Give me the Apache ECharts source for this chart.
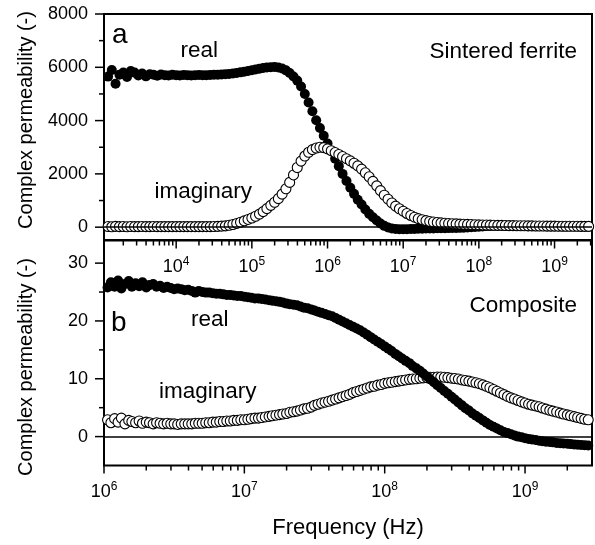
<!DOCTYPE html>
<html>
<head>
<meta charset="utf-8">
<script src="https://cdn.jsdelivr.net/npm/echarts@6.0.0/dist/echarts.min.js"></script>
<style>
  html, body { margin: 0; padding: 0; background: #fff; }
  #main { width: 595px; height: 545px; }
</style>
</head>
<body>
<div id="main"></div>
<script>
// sintered ferrite (panel a)
const ferriteFreq = [
  1.26e3, 1.41e3, 1.58e3, 1.78e3, 2e3, 2.24e3, 2.51e3, 2.82e3, 3.16e3, 3.55e3, 3.98e3, 4.47e3, 5.01e3, 5.62e3, 6.31e3, 7.08e3, 7.94e3, 8.91e3,
  1e4, 1.12e4, 1.26e4, 1.41e4, 1.58e4, 1.78e4, 2e4, 2.24e4, 2.51e4, 2.82e4, 3.16e4, 3.55e4, 3.98e4, 4.47e4, 5.01e4, 5.62e4, 6.31e4, 7.08e4, 7.94e4, 8.91e4,
  1e5, 1.12e5, 1.26e5, 1.41e5, 1.58e5, 1.78e5, 2e5, 2.24e5, 2.51e5, 2.82e5, 3.16e5, 3.55e5, 3.98e5, 4.47e5, 5.01e5, 5.62e5, 6.31e5, 7.08e5, 7.94e5, 8.91e5,
  1e6, 1.12e6, 1.26e6, 1.41e6, 1.58e6, 1.78e6, 2e6, 2.24e6, 2.51e6, 2.82e6, 3.16e6, 3.55e6, 3.98e6, 4.47e6, 5.01e6, 5.62e6, 6.31e6, 7.08e6, 7.94e6, 8.91e6,
  1e7, 1.12e7, 1.26e7, 1.41e7, 1.58e7, 1.78e7, 2e7, 2.24e7, 2.51e7, 2.82e7, 3.16e7, 3.55e7, 3.98e7, 4.47e7, 5.01e7, 5.62e7, 6.31e7, 7.08e7, 7.94e7, 8.91e7,
  1e8, 1.12e8, 1.26e8, 1.41e8, 1.58e8, 1.78e8, 2e8, 2.24e8, 2.51e8, 2.82e8, 3.16e8, 3.55e8, 3.98e8, 4.47e8, 5.01e8, 5.62e8, 6.31e8, 7.08e8, 7.94e8, 8.91e8,
  1e9, 1.12e9, 1.26e9, 1.41e9, 1.58e9, 1.78e9, 2e9, 2.24e9, 2.51e9, 2.82e9
];
const ferriteReal = [
  5650, 5900, 5380, 5720, 5800, 5640, 5860, 5800, 5690, 5770, 5660, 5740, 5720, 5680, 5730, 5700, 5690, 5720,
  5700, 5690, 5710, 5700, 5690, 5700, 5710, 5700, 5700, 5710, 5720, 5720, 5730, 5740, 5750, 5770, 5790, 5810, 5830, 5860,
  5890, 5920, 5950, 5975, 5995, 6005, 6010, 5995, 5955, 5885, 5785, 5655, 5500, 5280, 5000, 4680, 4350, 4010, 3720, 3430,
  3140, 2860, 2570, 2290, 2000, 1730, 1480, 1250, 1030, 850, 660, 500, 370, 250, 140, 50, -15, -50, -70, -80,
  -80, -75, -70, -65, -60, -55, -50, -48, -45, -42, -40, -38, -35, -32, -30, -25, -20, -10, 0, 10,
  20, 30, 40, 45, 50, 52, 52, 50, 48, 46, 44, 42, 40, 38, 37, 35, 34, 32, 31, 30,
  29, 28, 27, 26, 25, 24, 23, 22, 21, 20
];
const ferriteImag = [
  25, 15, 30, 20, 25, 15, 25, 20, 20, 25, 20, 20, 25, 20, 20, 20, 20, 20,
  20, 20, 20, 20, 20, 20, 20, 20, 20, 22, 25, 30, 38, 50, 70, 100, 140, 185, 235, 290,
  345, 410, 490, 585, 695, 820, 935, 1070, 1240, 1440, 1680, 1960, 2240, 2480, 2670, 2810, 2910, 2970, 3000, 2985,
  2940, 2870, 2800, 2730, 2650, 2570, 2490, 2400, 2300, 2180, 2040, 1890, 1720, 1550, 1370, 1200, 1050, 910, 790, 690,
  600, 515, 440, 375, 320, 280, 245, 215, 195, 178, 163, 150, 140, 130, 123, 116, 110, 104, 98, 93,
  88, 84, 80, 76, 72, 69, 66, 63, 60, 58, 55, 53, 51, 49, 47, 45, 44, 42, 41, 40,
  38, 37, 36, 35, 34, 33, 32, 31, 30, 30
];

// composite (panel b)
const compFreq = [
  1.06e6, 1.12e6, 1.19e6, 1.26e6, 1.33e6, 1.41e6, 1.5e6, 1.58e6, 1.68e6, 1.78e6, 1.88e6, 2e6, 2.11e6, 2.24e6, 2.37e6, 2.51e6, 2.66e6, 2.82e6, 2.99e6, 3.16e6,
  3.35e6, 3.55e6, 3.76e6, 3.98e6, 4.22e6, 4.47e6, 4.73e6, 5.01e6, 5.31e6, 5.62e6, 5.96e6, 6.31e6, 6.68e6, 7.08e6, 7.5e6, 7.94e6, 8.41e6, 8.91e6, 9.44e6,
  1e7, 1.06e7, 1.12e7, 1.19e7, 1.26e7, 1.33e7, 1.41e7, 1.5e7, 1.58e7, 1.68e7, 1.78e7, 1.88e7, 2e7, 2.11e7, 2.24e7, 2.37e7, 2.51e7, 2.66e7, 2.82e7, 2.99e7,
  3.16e7, 3.35e7, 3.55e7, 3.76e7, 3.98e7, 4.22e7, 4.47e7, 4.73e7, 5.01e7, 5.31e7, 5.62e7, 5.96e7, 6.31e7, 6.68e7, 7.08e7, 7.5e7, 7.94e7, 8.41e7, 8.91e7, 9.44e7,
  1e8, 1.06e8, 1.12e8, 1.19e8, 1.26e8, 1.33e8, 1.41e8, 1.5e8, 1.58e8, 1.68e8, 1.78e8, 1.88e8, 2e8, 2.11e8, 2.24e8, 2.37e8, 2.51e8, 2.66e8, 2.82e8, 2.99e8,
  3.16e8, 3.35e8, 3.55e8, 3.76e8, 3.98e8, 4.22e8, 4.47e8, 4.73e8, 5.01e8, 5.31e8, 5.62e8, 5.96e8, 6.31e8, 6.68e8, 7.08e8, 7.5e8, 7.94e8, 8.41e8, 8.91e8, 9.44e8,
  1e9, 1.06e9, 1.12e9, 1.19e9, 1.26e9, 1.33e9, 1.41e9, 1.5e9, 1.58e9, 1.68e9, 1.78e9, 1.88e9, 2e9, 2.11e9, 2.24e9, 2.37e9, 2.51e9, 2.66e9, 2.82e9
];
const compReal = [
  25.8, 26.7, 25.9, 27.0, 25.6, 26.4, 26.9, 25.9, 26.5, 26.0, 26.7, 25.8, 26.2, 26.4, 25.9, 26.1, 25.7, 25.9, 25.7, 25.5,
  25.6, 25.5, 25.3, 25.4, 25.2, 24.9, 25.2, 25.0, 24.9, 24.9, 24.8, 24.7, 24.7, 24.6, 24.5, 24.5, 24.4, 24.3, 24.3,
  24.2, 24.1, 24.0, 23.9, 23.9, 23.8, 23.7, 23.6, 23.5, 23.4, 23.3, 23.2, 23.0, 22.9, 22.8, 22.7, 22.5, 22.3, 22.2, 22.0,
  21.8, 21.6, 21.4, 21.2, 21.0, 20.8, 20.5, 20.2, 19.9, 19.6, 19.3, 19.0, 18.7, 18.4, 18.0, 17.6, 17.2, 16.8, 16.4, 16.0,
  15.6, 15.2, 14.8, 14.3, 13.9, 13.5, 13.1, 12.7, 12.2, 11.8, 11.4, 10.9, 10.4, 9.9, 9.4, 8.9, 8.4, 7.9, 7.4, 6.9,
  6.4, 5.9, 5.4, 4.9, 4.5, 4.0, 3.6, 3.2, 2.8, 2.4, 2.0, 1.7, 1.4, 1.1, 0.8, 0.6, 0.4, 0.2, 0.0, -0.1,
  -0.3, -0.4, -0.5, -0.6, -0.7, -0.8, -0.9, -0.95, -1.0, -1.1, -1.15, -1.2, -1.25, -1.3, -1.35, -1.4, -1.45, -1.5, -1.55
];
const compImag = [
  2.9, 2.4, 3.1, 2.5, 3.2, 2.2, 2.8, 2.6, 2.4, 2.7, 2.3, 2.5, 2.4, 2.2, 2.4, 2.3, 2.2, 2.3, 2.2, 2.2,
  2.1, 2.2, 2.2, 2.2, 2.2, 2.3, 2.3, 2.3, 2.4, 2.4, 2.5, 2.5, 2.6, 2.6, 2.7, 2.7, 2.8, 2.8, 2.9,
  2.9, 3.0, 3.1, 3.2, 3.2, 3.3, 3.4, 3.5, 3.6, 3.7, 3.8, 3.9, 4.0, 4.2, 4.3, 4.4, 4.6, 4.8, 4.9, 5.1,
  5.4, 5.6, 5.8, 5.95, 6.1, 6.3, 6.5, 6.7, 6.9, 7.1, 7.3, 7.6, 7.8, 8.0, 8.2, 8.4, 8.6, 8.7, 8.9, 9.0,
  9.2, 9.3, 9.4, 9.5, 9.6, 9.7, 9.8, 9.9, 9.95, 10.0, 10.1, 10.15, 10.2, 10.25, 10.25, 10.3, 10.3, 10.25, 10.2, 10.1,
  10.05, 9.95, 9.8, 9.7, 9.6, 9.45, 9.3, 9.15, 8.95, 8.7, 8.45, 8.15, 7.85, 7.55, 7.25, 6.95, 6.7, 6.5, 6.25, 6.0,
  5.8, 5.6, 5.45, 5.3, 5.15, 4.95, 4.75, 4.55, 4.4, 4.25, 4.05, 3.9, 3.75, 3.6, 3.45, 3.3, 3.15, 3.0, 2.9
];

// axis ranges and ticks
const ferriteX = [1112, 3.126e9];
const ferriteY = [-500, 8000];
const compX = [1e6, 3e9];
const compY = [-5, 34];
const ferriteDecades = [1e3, 1e4, 1e5, 1e6, 1e7, 1e8, 1e9];
const compDecades = [1e6, 1e7, 1e8, 1e9];
const minorMantissa = [2, 3, 4, 5, 6, 7, 8, 9];
const ferriteYMajor = [0, 2000, 4000, 6000, 8000];
const ferriteYMinor = [1000, 3000, 5000, 7000];
const compYMajor = [0, 10, 20, 30];
const compYMinor = [5, 15, 25];

const FONT = "'Liberation Sans', Arial, Helvetica, sans-serif";

function xTickItems(decades, range, yBottom) {
  const items = [];
  decades.forEach(d => {
    if (d >= range[0] && d <= range[1]) items.push([d, yBottom, 0, 8]);
    minorMantissa.forEach(m => {
      const v = m * d;
      if (v > range[0] && v < range[1]) items.push([v, yBottom, 0, 5]);
    });
  });
  return items;
}

function yTickItems(major, minor, xLeft) {
  return major.map(v => [xLeft, v, -9, 0]).concat(minor.map(v => [xLeft, v, -5, 0]));
}

function tickSeries(idx, items) {
  return {
    type: 'custom',
    xAxisIndex: idx,
    yAxisIndex: idx,
    silent: true,
    clip: false,
    z: 6,
    data: items,
    renderItem: (params, api) => {
      const p = api.coord([api.value(0), api.value(1)]);
      return {
        type: 'line',
        shape: { x1: p[0], y1: p[1], x2: p[0] + api.value(2), y2: p[1] + api.value(3) },
        style: { stroke: '#000', lineWidth: 1.5 }
      };
    }
  };
}

function powerLabel(v) {
  const e = Math.round(Math.log10(v));
  if (Math.abs(Math.log10(v) - e) > 1e-6) return '';
  return '{b|10}{s|' + e + '}';
}

const xLabelRich = {
  b: { fontSize: 18, fontFamily: FONT, color: '#000', lineHeight: 24 },
  s: { fontSize: 12, fontFamily: FONT, color: '#000', lineHeight: 12, verticalAlign: 'top' }
};

function xAxisCfg(idx, range) {
  return {
    type: 'log',
    logBase: 10,
    gridIndex: idx,
    min: range[0],
    max: range[1],
    axisLine: { show: false },
    axisTick: { show: false },
    splitLine: { show: false },
    axisLabel: { margin: 15, color: '#000', formatter: powerLabel, rich: xLabelRich }
  };
}

function yAxisCfg(idx, range, step, labelStep) {
  return {
    type: 'value',
    gridIndex: idx,
    min: range[0],
    max: range[1],
    interval: step,
    axisLine: { show: false },
    axisTick: { show: false },
    splitLine: { show: false },
    axisLabel: {
      margin: 16,
      color: '#000',
      fontSize: 18,
      fontFamily: FONT,
      formatter: v => (v >= 0 && v % labelStep === 0 ? String(v) : '')
    }
  };
}

const zeroLine = {
  silent: true,
  symbol: ['none', 'none'],
  label: { show: false },
  lineStyle: { color: '#000', width: 1.5, type: 'solid' },
  data: [{ yAxis: 0 }]
};

const filled = { color: '#000', opacity: 1 };
const open = { color: '#fff', borderColor: '#000', borderWidth: 1.1, opacity: 1 };

function txt(x, y, text, size, align, rot) {
  return {
    type: 'text',
    x: x,
    y: y,
    rotation: rot || 0,
    silent: true,
    z: 10,
    style: {
      text: text,
      font: size + 'px ' + FONT,
      fill: '#000',
      align: align,
      textAlign: align,
      verticalAlign: 'middle',
      textVerticalAlign: 'middle'
    }
  };
}

const chart = echarts.init(document.getElementById('main'), null, { renderer: 'canvas' });

chart.setOption({
  animation: false,
  backgroundColor: '#fff',
  grid: [
    { left: 104, top: 14, width: 489, height: 226.5, show: true, borderColor: '#000', borderWidth: 2, backgroundColor: 'transparent' },
    { left: 104, top: 240, width: 489, height: 225.5, show: true, borderColor: '#000', borderWidth: 2, backgroundColor: 'transparent' }
  ],
  xAxis: [xAxisCfg(0, ferriteX), xAxisCfg(1, compX)],
  yAxis: [yAxisCfg(0, ferriteY, 500, 2000), yAxisCfg(1, compY, 5, 10)],
  graphic: [
    txt(112, 35, 'a', 28, 'left'),
    txt(180.5, 50.5, 'real', 22.5, 'left'),
    txt(154.5, 191.5, 'imaginary', 22.5, 'left'),
    txt(577, 51.5, 'Sintered ferrite', 22.5, 'right'),
    txt(111, 323.5, 'b', 28, 'left'),
    txt(191, 320, 'real', 22.5, 'left'),
    txt(159, 392, 'imaginary', 22.5, 'left'),
    txt(577, 305.5, 'Composite', 22.5, 'right'),
    txt(26, 120, 'Complex permeability (-)', 20, 'center', Math.PI / 2),
    txt(26, 367, 'Complex permeability (-)', 20, 'center', Math.PI / 2),
    txt(348, 527.5, 'Frequency (Hz)', 22, 'center')
  ],
  series: [
    {
      name: 'ferrite real',
      type: 'scatter',
      xAxisIndex: 0,
      yAxisIndex: 0,
      symbol: 'circle',
      symbolSize: 10,
      silent: true,
      itemStyle: filled,
      data: ferriteFreq.map((f, i) => [f, ferriteReal[i]]),
      markLine: zeroLine
    },
    {
      name: 'ferrite imaginary',
      type: 'scatter',
      xAxisIndex: 0,
      yAxisIndex: 0,
      symbol: 'circle',
      symbolSize: 10,
      silent: true,
      itemStyle: open,
      data: ferriteFreq.map((f, i) => [f, ferriteImag[i]])
    },
    {
      name: 'composite imaginary',
      type: 'scatter',
      xAxisIndex: 1,
      yAxisIndex: 1,
      symbol: 'circle',
      symbolSize: 10,
      silent: true,
      itemStyle: open,
      data: compFreq.map((f, i) => [f, compImag[i]]),
      markLine: zeroLine
    },
    {
      name: 'composite real',
      type: 'scatter',
      xAxisIndex: 1,
      yAxisIndex: 1,
      symbol: 'circle',
      symbolSize: 10,
      silent: true,
      itemStyle: filled,
      data: compFreq.map((f, i) => [f, compReal[i]])
    },
    tickSeries(0, xTickItems(ferriteDecades, ferriteX, ferriteY[0]).concat(yTickItems(ferriteYMajor, ferriteYMinor, ferriteX[0]))),
    tickSeries(1, xTickItems(compDecades, compX, compY[0]).concat(yTickItems(compYMajor, compYMinor, compX[0])))
  ]
});
</script>
</body>
</html>
